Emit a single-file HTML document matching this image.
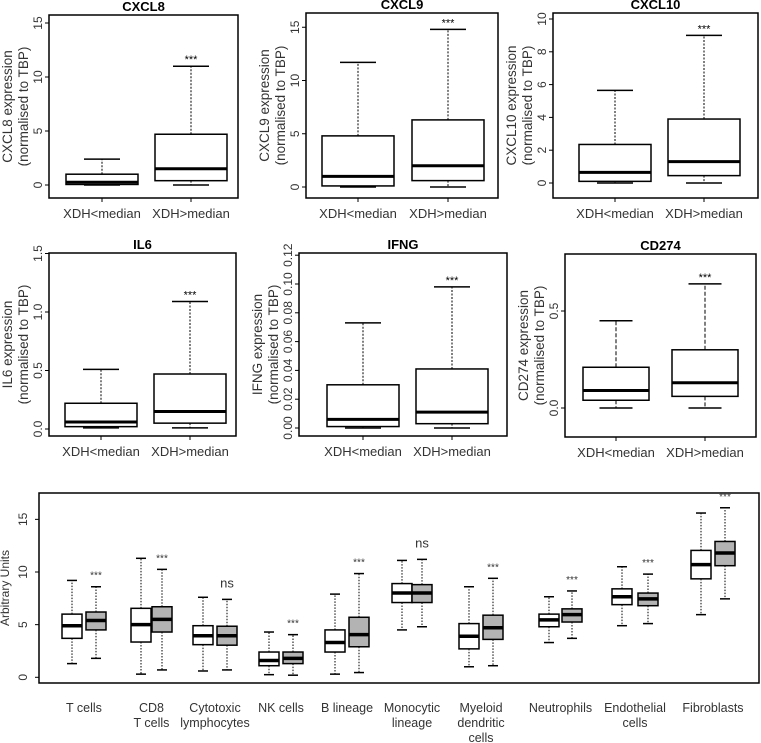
<!DOCTYPE html>
<html><head><meta charset="utf-8"><style>
html,body{margin:0;padding:0;background:#fff;}
svg{display:block;font-family:"Liberation Sans",Arial,sans-serif;}
</style></head><body>
<svg id="fig" width="761" height="743" viewBox="0 0 761 743" xmlns="http://www.w3.org/2000/svg"></svg>
<script>
// ---- small panel data: [low whisker, q1, median, q3, high whisker] ----
const groupLabels = ["XDH<median","XDH>median"];
const cxcl8Lo = [0,0.05,0.25,1.0,2.4];
const cxcl8Hi = [0,0.4,1.5,4.7,11];
const cxcl9Lo = [0,0.1,1.0,4.8,11.7];
const cxcl9Hi = [0,0.6,2.0,6.3,14.8];
const cxcl10Lo = [0,0.1,0.65,2.35,5.65];
const cxcl10Hi = [0,0.45,1.3,3.9,9.0];
const il6Lo = [0.01,0.02,0.06,0.22,0.51];
const il6Hi = [0.01,0.05,0.15,0.47,1.09];
const ifngLo = [0.000,0.001,0.006,0.030,0.073];
const ifngHi = [0.000,0.003,0.011,0.041,0.098];
const cd274Lo = [0.0,0.04,0.09,0.21,0.45];
const cd274Hi = [0.0,0.06,0.13,0.30,0.64];
const cxcl8Ticks = [0,5,10,15];
const cxcl9Ticks = [0,5,10,15];
const cxcl10Ticks = [0,2,4,6,8,10];
const il6Ticks = [0,0.5,1.0,1.5];
const il6TickLabels = ["0.0","0.5","1.0","1.5"];
const ifngTicks = [0,0.02,0.04,0.06,0.08,0.10,0.12];
const ifngTickLabels = ["0.00","0.02","0.04","0.06","0.08","0.10","0.12"];
const cd274Ticks = [0,0.5];
const cd274TickLabels = ["0.0","0.5"];

// ---- cell-type panel data ----
const cellCategories = [["T cells"],["CD8","T cells"],["Cytotoxic","lymphocytes"],["NK cells"],["B lineage"],["Monocytic","lineage"],["Myeloid","dendritic","cells"],["Neutrophils"],["Endothelial","cells"],["Fibroblasts"]];
const cellLow = [[1.3,1.2],[0.3,0.05],[0.6,0.6],[0.25,0.25],[0.3,0.3],[4.5,4.5],[1.0,1.0],[3.3,3.3],[4.9,4.9],[5.95,5.95]].map(a=>a[0]);
const whiteLowW = [1.3,0.3,0.6,0.25,0.3,4.5,1.0,3.3,4.9,5.95];
const whiteQ1 = [3.7,3.35,3.1,1.1,2.4,7.1,2.7,4.8,6.9,9.35];
const whiteMed = [4.9,5.0,3.95,1.6,3.3,8.0,3.9,5.45,7.65,10.7];
const whiteQ3 = [6.0,6.55,4.9,2.4,4.5,8.9,5.1,6.0,8.4,12.05];
const whiteHiW = [9.2,11.3,7.6,4.3,7.9,11.1,8.6,7.65,10.5,15.6];
const grayLowW = [1.8,0.7,0.7,0.2,0.45,4.8,1.1,3.7,5.1,7.45];
const grayQ1 = [4.5,4.3,3.05,1.3,2.9,7.1,3.6,5.25,6.8,10.6];
const grayMed = [5.4,5.5,3.95,1.8,4.05,8.0,4.7,5.95,7.45,11.8];
const grayQ3 = [6.2,6.7,4.85,2.4,5.7,8.8,5.9,6.5,8.0,12.9];
const grayHiW = [8.6,10.25,7.4,4.05,9.85,11.2,9.4,8.2,9.8,16.1];
const cellSig = ["***","***","ns","***","***","ns","***","***","***","***"];
const cellTicks = [0,5,10,15];

const NS="http://www.w3.org/2000/svg";
const svg=document.getElementById('fig');
function mk(tag,attrs,parent){const e=document.createElementNS(NS,tag);for(const k in attrs)e.setAttribute(k,attrs[k]);(parent||svg).appendChild(e);return e;}
function txt(s,attrs,parent){const e=mk('text',attrs,parent);e.textContent=s;return e;}

function panel(p){
  const g=mk('g',{});
  
  
  const y=v=>p.y0-(v-p.vmin)*p.ppu;
  const fr=mk('rect',{x:p.x1,y:p.y1,width:p.x2-p.x1,height:p.y2-p.y1,fill:'none',stroke:'#000','stroke-width':1.5},g);
  
  
  const t=txt(p.title,{x:(p.x1+p.x2)/2,y:p.y1-4,'text-anchor':'middle','font-size':13,'font-weight':'bold'},g);
  
  
  // y axis
  const ax=p.x1;
  mk('line',{x1:ax,x2:ax,y1:y(p.ticks[0]),y2:y(p.ticks[p.ticks.length-1]),stroke:'#000'},g);
  p.ticks.forEach((v,i)=>{
    const yy=y(v);
    mk('line',{x1:ax-4,x2:ax,y1:yy,y2:yy,stroke:'#000'},g);
    const lab=p.tickLabels?p.tickLabels[i]:String(v);
    const tl=txt(lab,{x:ax-7,y:yy,'text-anchor':'middle','font-size':12,fill:'#333',transform:`rotate(-90 ${ax-7} ${yy})`},g);
    
    
  });
  const cy=(p.y1+p.y2)/2;
  const l1=txt(p.ylab,{x:p.x1-37,y:cy,'text-anchor':'middle','font-size':13.5,fill:'#333',transform:`rotate(-90 ${p.x1-37} ${cy})`},g);
  
  
  const l2=txt('(normalised to TBP)',{x:p.x1-21,y:cy,'text-anchor':'middle','font-size':13.5,fill:'#333',transform:`rotate(-90 ${p.x1-21} ${cy})`},g);
  
  
  [p.lo,p.hi].forEach((d,i)=>{
    const cx=p.cx[i], hw=p.hw;
    const b=mk('g',{},g);
    
    
    mk('line',{x1:cx,x2:cx,y1:y(d[3]),y2:y(d[4]),stroke:'#000','stroke-dasharray':p.dash,'stroke-width':1},b);
    mk('line',{x1:cx,x2:cx,y1:y(d[1]),y2:y(d[0]),stroke:'#000','stroke-dasharray':p.dash,'stroke-width':1},b);
    mk('line',{x1:cx-hw/2,x2:cx+hw/2,y1:y(d[4]),y2:y(d[4]),stroke:'#000','stroke-width':1.5},b);
    mk('line',{x1:cx-hw/2,x2:cx+hw/2,y1:y(d[0]),y2:y(d[0]),stroke:'#000','stroke-width':1.5},b);
    mk('rect',{x:cx-hw,y:y(d[3]),width:2*hw,height:y(d[1])-y(d[3]),fill:'#fff',stroke:'#000','stroke-width':1.5},b);
    mk('line',{x1:cx-hw,x2:cx+hw,y1:y(d[2]),y2:y(d[2]),stroke:'#000','stroke-width':3},b);
    mk('line',{x1:cx,x2:cx,y1:p.y2,y2:p.y2+4,stroke:'#000'},g);
    const xl=txt(groupLabels[i],{x:cx,y:p.y2+20,'text-anchor':'middle','font-size':13,fill:'#333'},g);
    
    
  });
  const s=txt('***',{x:p.cx[1],y:y(p.hi[4])-3,'text-anchor':'middle','font-size':11},g);
  
  
}

panel({name:'cxcl8',title:'CXCL8',ylab:'CXCL8 expression',x1:49,x2:238,y1:15,y2:198,y0:185,vmin:0,ppu:10.8,cx:[102,191],hw:36,lo:cxcl8Lo,hi:cxcl8Hi,ticks:cxcl8Ticks,dash:'2,1.5'});
panel({name:'cxcl9',title:'CXCL9',ylab:'CXCL9 expression',x1:306,x2:498,y1:13,y2:198,y0:187,vmin:0,ppu:10.65,cx:[358,448],hw:36,lo:cxcl9Lo,hi:cxcl9Hi,ticks:cxcl9Ticks,dash:'2,1.5'});
panel({name:'cxcl10',title:'CXCL10',ylab:'CXCL10 expression',x1:553,x2:758,y1:13,y2:198,y0:183,vmin:0,ppu:16.4,cx:[615,704],hw:36,lo:cxcl10Lo,hi:cxcl10Hi,ticks:cxcl10Ticks,dash:'2,1.5'});
panel({name:'il6',title:'IL6',ylab:'IL6 expression',x1:49,x2:236,y1:253,y2:436,y0:429,vmin:0,ppu:117,cx:[101,190],hw:36,lo:il6Lo,hi:il6Hi,ticks:il6Ticks,tickLabels:il6TickLabels,dash:'2,1.5'});
panel({name:'ifng',title:'IFNG',ylab:'IFNG expression',x1:299,x2:507,y1:253,y2:436,y0:428,vmin:0,ppu:1440,cx:[363,452],hw:36,lo:ifngLo,hi:ifngHi,ticks:ifngTicks,tickLabels:ifngTickLabels,dash:'2,1.5'});
panel({name:'cd274',title:'CD274',ylab:'CD274 expression',x1:565,x2:756,y1:254,y2:437,y0:408,vmin:0,ppu:194,cx:[616,705],hw:33,lo:cd274Lo,hi:cd274Hi,ticks:cd274Ticks,tickLabels:cd274TickLabels,dash:'4,2'});

// ---- cell type panel ----
(function(){
  const g=mk('g',{});
  
  
  const X1=39,X2=759,Y1=493,Y2=683,Y0=677.3,PPU=10.53;
  const y=v=>Y0-v*PPU;
  const whiteX=[72,141,203,269,335,402,469,549,622,701];
  const grayX=[96,162,227,293,359,422,493,572,648,725];
  const fr=mk('rect',{x:X1,y:Y1,width:X2-X1,height:Y2-Y1,fill:'none',stroke:'#000','stroke-width':1.5},g);
  
  
  mk('line',{x1:X1,x2:X1,y1:y(cellTicks[0]),y2:y(cellTicks[cellTicks.length-1]),stroke:'#000'},g);
  cellTicks.forEach(v=>{
    const yy=y(v);
    mk('line',{x1:X1-4,x2:X1,y1:yy,y2:yy,stroke:'#000'},g);
    const tl=txt(String(v),{x:X1-12,y:yy,'text-anchor':'middle','font-size':12,fill:'#333',transform:`rotate(-90 ${X1-12} ${yy})`},g);
    
    
  });
  const cy=(Y1+Y2)/2;
  const yt=txt('Arbitrary Units',{x:9,y:cy,'text-anchor':'middle','font-size':12,fill:'#333',transform:`rotate(-90 9 ${cy})`},g);
  
  
  function box(cx,lo,q1,md,q3,hi,fill,nm){
    const b=mk('g',{},g);
    
    
    mk('line',{x1:cx,x2:cx,y1:y(q3),y2:y(hi),stroke:'#000','stroke-dasharray':'1.5,1.5'},b);
    mk('line',{x1:cx,x2:cx,y1:y(q1),y2:y(lo),stroke:'#000','stroke-dasharray':'1.5,1.5'},b);
    mk('line',{x1:cx-5,x2:cx+5,y1:y(hi),y2:y(hi),stroke:'#000','stroke-width':1.5},b);
    mk('line',{x1:cx-5,x2:cx+5,y1:y(lo),y2:y(lo),stroke:'#000','stroke-width':1.5},b);
    mk('rect',{x:cx-10,y:y(q3),width:20,height:y(q1)-y(q3),fill:fill,stroke:'#000','stroke-width':1.5},b);
    mk('line',{x1:cx-10,x2:cx+10,y1:y(md),y2:y(md),stroke:'#000','stroke-width':3.5},b);
  }
  cellCategories.forEach((lines,i)=>{
    box(whiteX[i],whiteLowW[i],whiteQ1[i],whiteMed[i],whiteQ3[i],whiteHiW[i],'#fff','box-white-'+i);
    box(grayX[i],grayLowW[i],grayQ1[i],grayMed[i],grayQ3[i],grayHiW[i],'#b3b3b3','box-gray-'+i);
    const ns=cellSig[i]==='ns';
    const s=txt(cellSig[i],{x:grayX[i],y:y(grayHiW[i])-(ns?12:8),'text-anchor':'middle','font-size':ns?13:10,fill:'#333'},g);
    
    
    const cx=(whiteX[i]+grayX[i])/2;
    lines.forEach((ln,j)=>{
      const l=txt(ln,{x:cx,y:712+j*15,'text-anchor':'middle','font-size':12.5,fill:'#333'},g);
      
      
    });
  });
})();
</script>
</body></html>
